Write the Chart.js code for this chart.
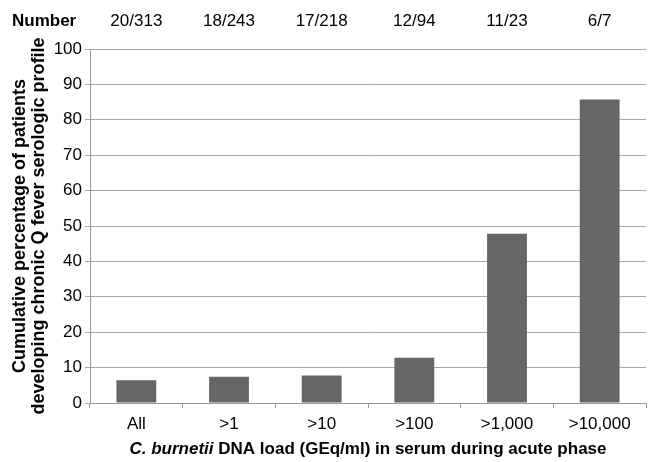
<!DOCTYPE html>
<html lang="en">
<head>
<meta charset="UTF-8" />
<title>Chronic Q fever by DNA load</title>
<script src="https://cdn.jsdelivr.net/npm/chart.js"></script>
<style>
  html, body { margin: 0; padding: 0; background: #fff; }
  #wrap { width: 649px; height: 462px; }
</style>
</head>
<body>
<div id="wrap"><canvas id="chart"></canvas></div>
<script>
// data
const categories = ['All', '>1', '>10', '>100', '>1,000', '>10,000'];
const numbers = ['20/313', '18/243', '17/218', '12/94', '11/23', '6/7'];
const percentages = [6.4, 7.4, 7.8, 12.8, 47.8, 85.7];

const FONT = '"Liberation Sans", Arial, Helvetica, sans-serif';

// top row "Number ..." and the mixed-style x title
const extraText = {
  id: 'extraText',
  afterDraw(chart) {
    const ctx = chart.ctx;
    const x = chart.scales.x;
    const area = chart.chartArea;
    ctx.save();
    ctx.fillStyle = '#000';
    ctx.textBaseline = 'alphabetic';
    ctx.font = 'bold 17px ' + FONT;
    ctx.textAlign = 'left';
    ctx.fillText('Number', 12, 26);
    ctx.font = '17px ' + FONT;
    ctx.textAlign = 'center';
    numbers.forEach((n, i) => {
      ctx.fillText(n, x.getPixelForValue(i), 26);
    });

    // x title: italic species name then bold text
    const part1 = 'C. burnetii';
    const part2 = ' DNA load (GEq/ml) in serum during acute phase';
    const f1 = 'italic bold 17px ' + FONT;
    const f2 = 'bold 17px ' + FONT;
    ctx.font = f1;
    const w1 = ctx.measureText(part1).width;
    ctx.font = f2;
    const w2 = ctx.measureText(part2).width;
    let start = (area.left + area.right) / 2 - (w1 + w2) / 2;
    ctx.textAlign = 'left';
    ctx.font = f1;
    ctx.fillText(part1, start, 454);
    ctx.font = f2;
    ctx.fillText(part2, start + w1, 454);
    ctx.restore();
  }
};

new Chart(document.getElementById('chart'), {
  type: 'bar',
  data: {
    labels: categories,
    datasets: [{
      data: percentages,
      backgroundColor: '#666666',
      borderWidth: 0,
      barPercentage: 0.86,
      categoryPercentage: 0.5
    }]
  },
  options: {
    responsive: true,
    maintainAspectRatio: false,
    animation: false,
    devicePixelRatio: 1,
    layout: { padding: { top: 49, right: 3, left: 0, bottom: 0 } },
    plugins: {
      legend: { display: false },
      tooltip: { enabled: false }
    },
    scales: {
      x: {
        grid: {
          offset: true,
          drawOnChartArea: false,
          color: '#999',
          tickLength: 5
        },
        border: { color: '#999', width: 1 },
        ticks: {
          color: '#000',
          font: { family: FONT, size: 17 },
          padding: 6,
          maxRotation: 0
        },
        afterFit(scale) { scale.height = 59; }
      },
      y: {
        min: 0,
        max: 100,
        ticks: {
          stepSize: 10,
          color: '#000',
          font: { family: FONT, size: 17 },
          padding: 3
        },
        grid: { color: '#a6a6a6', tickLength: 5 },
        border: { color: '#999', width: 1 },
        title: {
          display: true,
          text: ['Cumulative percentage of patients', 'developing chronic Q fever serologic profile'],
          color: '#000',
          font: { family: FONT, size: 18, weight: 'bold', lineHeight: 1.08 },
          padding: { top: 10, bottom: 0 }
        },
        afterFit(scale) { scale.width = 90; }
      }
    }
  },
  plugins: [extraText]
});
</script>
</body>
</html>
